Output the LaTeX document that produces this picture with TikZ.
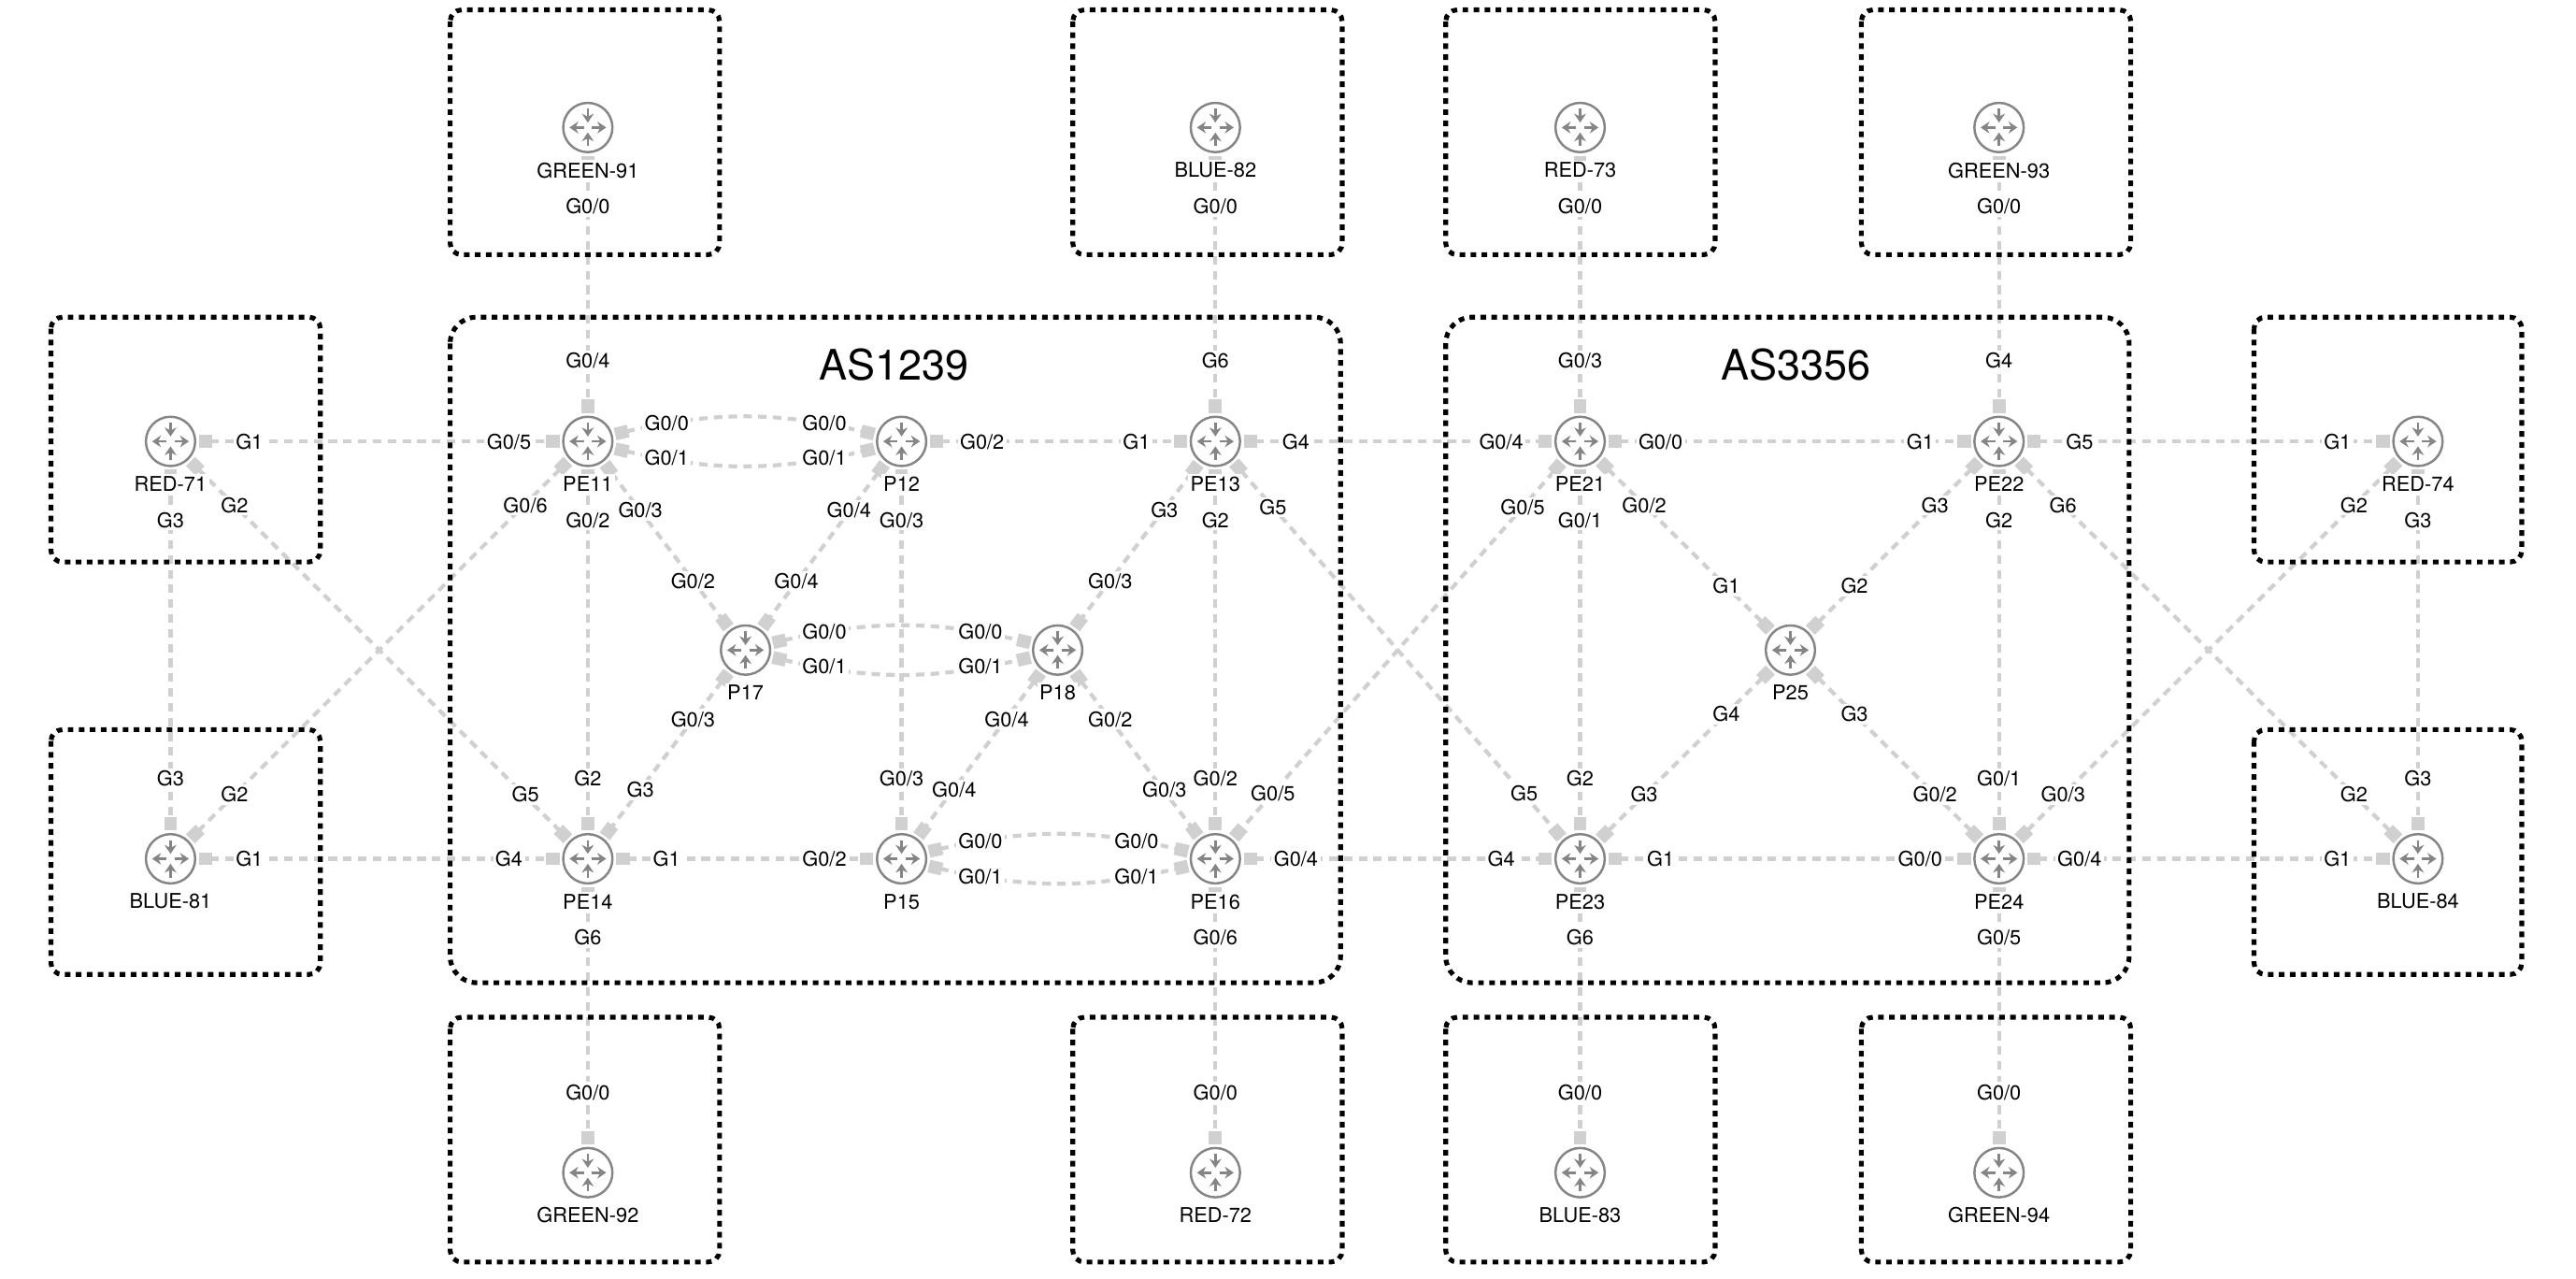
\documentclass[tikz,border=0pt]{standalone}
\usepackage{fontspec}
\setmainfont{TeX Gyre Heros}
\usepackage{tikz}
\usetikzlibrary{arrows.meta}
\definecolor{linkgray}{HTML}{D0D0D0}
\definecolor{icongray}{HTML}{858585}
\tikzset{
  router/.style={circle,draw=icongray,line width=0.7pt,fill=white,minimum size=15pt,inner sep=0pt,outer sep=1.1pt,
    xshift=0.4pt,yshift=-0.3pt,
    path picture={
      \coordinate (c) at (path picture bounding box.center);
      \draw[icon] ([yshift=5.7pt]c) -- ([yshift=1.5pt]c);
      \draw[icon] ([yshift=-5.7pt]c) -- ([yshift=-1.5pt]c);
      \draw[icon] ([xshift=1.2pt]c) -- ([xshift=5.6pt]c);
      \draw[icon] ([xshift=-1.2pt]c) -- ([xshift=-5.6pt]c);
    }},
  icon/.style={draw=icongray,line width=0.75pt,-{Stealth[length=2.7pt,width=3.6pt]}},
  link/.style={draw=linkgray,line width=1.2pt,dash pattern=on 2.6pt off 1.9pt,
    {Square[length=4.1pt,width=3.9pt]}-{Square[length=4.1pt,width=3.9pt]}},
  asbox/.style={draw=black,line width=1.45pt,dash pattern=on 1.7pt off 1.65pt},
  port/.style={fill=white,inner sep=0.7pt,xshift=0.4pt,yshift=-0.3pt,font=\fontsize{6.2}{7}\selectfont},
  rname/.style={fill=white,inner sep=0.7pt,xshift=0.4pt,yshift=-0.3pt,font=\fontsize{6.2}{7}\selectfont},
  astitle/.style={inner sep=0pt,font=\fontsize{12.8}{14}\selectfont},
}
\begin{document}
\begin{tikzpicture}[x=0.0175765cm,y=-0.0175765cm]
\useasboundingbox (0,0) rectangle (1568,778.3);
% routers
\node[router] (green91) at (357,77) {};
\node[router] (blue82) at (739,77) {};
\node[router] (red73) at (961,77) {};
\node[router] (green93) at (1216,77) {};
\node[router] (red71) at (103,268) {};
\node[router] (pe11) at (357,268) {};
\node[router] (p12) at (548,268) {};
\node[router] (pe13) at (739,268) {};
\node[router] (pe21) at (961,268) {};
\node[router] (pe22) at (1216,268) {};
\node[router] (red74) at (1471,268) {};
\node[router] (p17) at (453,395) {};
\node[router] (p18) at (643,395) {};
\node[router] (p25) at (1089,395) {};
\node[router] (blue81) at (103,522) {};
\node[router] (pe14) at (357,522) {};
\node[router] (p15) at (548,522) {};
\node[router] (pe16) at (739,522) {};
\node[router] (pe23) at (961,522) {};
\node[router] (pe24) at (1216,522) {};
\node[router] (blue84) at (1471,522) {};
\node[router] (green92) at (357,713) {};
\node[router] (red72) at (739,713) {};
\node[router] (blue83) at (961,713) {};
\node[router] (green94) at (1216,713) {};
% links
\draw[link] (green91) -- (pe11);
\draw[link] (blue82) -- (pe13);
\draw[link] (red73) -- (pe21);
\draw[link] (green93) -- (pe22);
\draw[link] (red71) -- (pe11);
\draw[link] (p12) -- (pe13);
\draw[link] (pe13) -- (pe21);
\draw[link] (pe21) -- (pe22);
\draw[link] (pe22) -- (red74);
\draw[link] (red71) -- (blue81);
\draw[link] (red71) -- (pe14);
\draw[link] (pe11) -- (blue81);
\draw[link] (pe11) -- (pe14);
\draw[link] (pe11) -- (p17);
\draw[link] (p12) -- (p17);
\draw[link] (p12) -- (p15);
\draw[link] (pe13) -- (p18);
\draw[link] (pe13) -- (pe16);
\draw[link] (pe13) -- (pe23);
\draw[link] (pe21) -- (pe16);
\draw[link] (pe21) -- (pe23);
\draw[link] (pe21) -- (p25);
\draw[link] (pe22) -- (p25);
\draw[link] (pe22) -- (pe24);
\draw[link] (pe22) -- (blue84);
\draw[link] (red74) -- (pe24);
\draw[link] (red74) -- (blue84);
\draw[link] (p17) -- (pe14);
\draw[link] (p18) -- (p15);
\draw[link] (p18) -- (pe16);
\draw[link] (p25) -- (pe23);
\draw[link] (p25) -- (pe24);
\draw[link] (blue81) -- (pe14);
\draw[link] (pe14) -- (p15);
\draw[link] (pe16) -- (pe23);
\draw[link] (pe23) -- (pe24);
\draw[link] (pe24) -- (blue84);
\draw[link] (pe14) -- (green92);
\draw[link] (pe16) -- (red72);
\draw[link] (pe23) -- (blue83);
\draw[link] (pe24) -- (green94);
% double links
\draw[link] (pe11.15) to[bend left=13] (p12.165);
\draw[link] (pe11.-15) to[bend right=13] (p12.-165);
\draw[link] (p17.15) to[bend left=13] (p18.165);
\draw[link] (p17.-15) to[bend right=13] (p18.-165);
\draw[link] (p15.15) to[bend left=13] (pe16.165);
\draw[link] (p15.-15) to[bend right=13] (pe16.-165);
% domains
\draw[asbox,rounded corners=3.5pt] (274,6) rectangle (438,155);
\draw[asbox,rounded corners=3.5pt] (653,6) rectangle (817,155);
\draw[asbox,rounded corners=3.5pt] (880,6) rectangle (1044,155);
\draw[asbox,rounded corners=3.5pt] (1133,6) rectangle (1297,155);
\draw[asbox,rounded corners=3.5pt] (31,193) rectangle (195,342);
\draw[asbox,rounded corners=3.5pt] (1372,193) rectangle (1535,342);
\draw[asbox,rounded corners=3.5pt] (31,444) rectangle (195,593);
\draw[asbox,rounded corners=3.5pt] (1372,444) rectangle (1535,593);
\draw[asbox,rounded corners=3.5pt] (274,619) rectangle (438,768);
\draw[asbox,rounded corners=3.5pt] (653,619) rectangle (817,768);
\draw[asbox,rounded corners=3.5pt] (880,619) rectangle (1044,768);
\draw[asbox,rounded corners=3.5pt] (1133,619) rectangle (1297,768);
\draw[asbox,rounded corners=8pt] (274,193) rectangle (816,598);
\draw[asbox,rounded corners=8pt] (880,193) rectangle (1296,598);
\node[astitle] (as1239) at (544,222) {AS1239};
\node[astitle] (as3356) at (1093,222) {AS3356};
% router names
\node[rname] (green91t) at (357,103) {GREEN-91};
\node[rname] (blue82t) at (739,103) {BLUE-82};
\node[rname] (red73t) at (961,103) {RED-73};
\node[rname] (green93t) at (1216,103) {GREEN-93};
\node[rname] (red71t) at (103,294) {RED-71};
\node[rname] (pe11t) at (357,294) {PE11};
\node[rname] (p12t) at (548,294) {P12};
\node[rname] (pe13t) at (739,294) {PE13};
\node[rname] (pe21t) at (961,294) {PE21};
\node[rname] (pe22t) at (1216,294) {PE22};
\node[rname] (red74t) at (1471,294) {RED-74};
\node[rname] (p17t) at (453,421) {P17};
\node[rname] (p18t) at (643,421) {P18};
\node[rname] (p25t) at (1089,421) {P25};
\node[rname] (blue81t) at (103,548) {BLUE-81};
\node[rname] (pe14t) at (357,548) {PE14};
\node[rname] (p15t) at (548,548) {P15};
\node[rname] (pe16t) at (739,548) {PE16};
\node[rname] (pe23t) at (961,548) {PE23};
\node[rname] (pe24t) at (1216,548) {PE24};
\node[rname] (blue84t) at (1471,548) {BLUE-84};
\node[rname] (green92t) at (357,739) {GREEN-92};
\node[rname] (red72t) at (739,739) {RED-72};
\node[rname] (blue83t) at (961,739) {BLUE-83};
\node[rname] (green94t) at (1216,739) {GREEN-94};
% port labels, top row
\node[port] (green91g00) at (357,125) {G0/0};
\node[port] (pe11g04) at (357,219) {G0/4};
\node[port] (blue82g00) at (739,125) {G0/0};
\node[port] (pe13g6) at (739,219) {G6};
\node[port] (red73g00) at (961,125) {G0/0};
\node[port] (pe21g03) at (961,219) {G0/3};
\node[port] (green93g00) at (1216,125) {G0/0};
\node[port] (pe22g4) at (1216,219) {G4};
% port labels, upper row
\node[port] (red71g1) at (151,268) {G1};
\node[port] (pe11g05) at (309,268) {G0/5};
\node[port] (pe11g00) at (405,257) {G0/0};
\node[port] (p12g00) at (501,257) {G0/0};
\node[port] (pe11g01) at (405,278) {G0/1};
\node[port] (p12g01) at (501,278) {G0/1};
\node[port] (p12g02) at (597,268) {G0/2};
\node[port] (pe13g1) at (691,268) {G1};
\node[port] (pe13g4) at (788,268) {G4};
\node[port] (pe21g04) at (913,268) {G0/4};
\node[port] (pe21g00) at (1010,268) {G0/0};
\node[port] (pe22g1) at (1168,268) {G1};
\node[port] (pe22g5) at (1265,268) {G5};
\node[port] (red74g1) at (1422,268) {G1};
% port labels, below the upper row
\node[port] (red71g3) at (103,316) {G3};
\node[port] (red71g2) at (142,307) {G2};
\node[port] (pe11g06) at (319,307) {G0/6};
\node[port] (pe11g02) at (357,316) {G0/2};
\node[port] (pe11g03) at (389,310) {G0/3};
\node[port] (p12g04) at (516,310) {G0/4};
\node[port] (p12g03) at (548,316) {G0/3};
\node[port] (pe13g3) at (708,310) {G3};
\node[port] (pe13g2) at (739,316) {G2};
\node[port] (pe13g5) at (774,308) {G5};
\node[port] (pe21g05) at (926,308) {G0/5};
\node[port] (pe21g01) at (961,316) {G0/1};
\node[port] (pe21g02) at (1000,307) {G0/2};
\node[port] (pe22g3) at (1177,307) {G3};
\node[port] (pe22g2) at (1216,316) {G2};
\node[port] (pe22g6) at (1255,307) {G6};
\node[port] (red74g2) at (1432,307) {G2};
\node[port] (red74g3) at (1471,316) {G3};
% port labels, middle
\node[port] (p17g02) at (421,353) {G0/2};
\node[port] (p17g04) at (484,353) {G0/4};
\node[port] (p18g03) at (675,353) {G0/3};
\node[port] (p25g1) at (1050,356) {G1};
\node[port] (p25g2) at (1128,356) {G2};
\node[port] (p17g00) at (501,384) {G0/0};
\node[port] (p18g00) at (596,384) {G0/0};
\node[port] (p17g01) at (501,405) {G0/1};
\node[port] (p18g01) at (596,405) {G0/1};
\node[port] (p17g03) at (421,437) {G0/3};
\node[port] (p18g04) at (612,437) {G0/4};
\node[port] (p18g02) at (675,437) {G0/2};
\node[port] (p25g4) at (1050,434) {G4};
\node[port] (p25g3) at (1128,434) {G3};
% port labels, above the lower row
\node[port] (blue81g3) at (103,473) {G3};
\node[port] (blue81g2) at (142,483) {G2};
\node[port] (pe14g5) at (319,483) {G5};
\node[port] (pe14g2) at (357,473) {G2};
\node[port] (pe14g3) at (389,480) {G3};
\node[port] (p15g03) at (548,473) {G0/3};
\node[port] (p15g04) at (580,480) {G0/4};
\node[port] (pe16g03) at (708,480) {G0/3};
\node[port] (pe16g02) at (739,473) {G0/2};
\node[port] (pe16g05) at (774,482) {G0/5};
\node[port] (pe23g5) at (927,482) {G5};
\node[port] (pe23g2) at (961,473) {G2};
\node[port] (pe23g3) at (1000,483) {G3};
\node[port] (pe24g02) at (1177,483) {G0/2};
\node[port] (pe24g01) at (1216,473) {G0/1};
\node[port] (pe24g03) at (1255,483) {G0/3};
\node[port] (blue84g2) at (1432,483) {G2};
\node[port] (blue84g3) at (1471,473) {G3};
% port labels, lower row
\node[port] (blue81g1) at (151,522) {G1};
\node[port] (pe14g4) at (309,522) {G4};
\node[port] (pe14g1) at (405,522) {G1};
\node[port] (p15g02) at (501,522) {G0/2};
\node[port] (p15g00) at (596,511) {G0/0};
\node[port] (pe16g00) at (691,511) {G0/0};
\node[port] (p15g01) at (596,533) {G0/1};
\node[port] (pe16g01) at (691,533) {G0/1};
\node[port] (pe16g04) at (788,522) {G0/4};
\node[port] (pe23g4) at (913,522) {G4};
\node[port] (pe23g1) at (1010,522) {G1};
\node[port] (pe24g00) at (1168,522) {G0/0};
\node[port] (pe24g04) at (1265,522) {G0/4};
\node[port] (blue84g1) at (1422,522) {G1};
% port labels, bottom row
\node[port] (pe14g6) at (357,570) {G6};
\node[port] (green92g00) at (357,664) {G0/0};
\node[port] (pe16g06) at (739,570) {G0/6};
\node[port] (red72g00) at (739,664) {G0/0};
\node[port] (pe23g6) at (961,570) {G6};
\node[port] (blue83g00) at (961,664) {G0/0};
\node[port] (pe24g05) at (1216,570) {G0/5};
\node[port] (green94g00) at (1216,664) {G0/0};
\end{tikzpicture}
\end{document}
